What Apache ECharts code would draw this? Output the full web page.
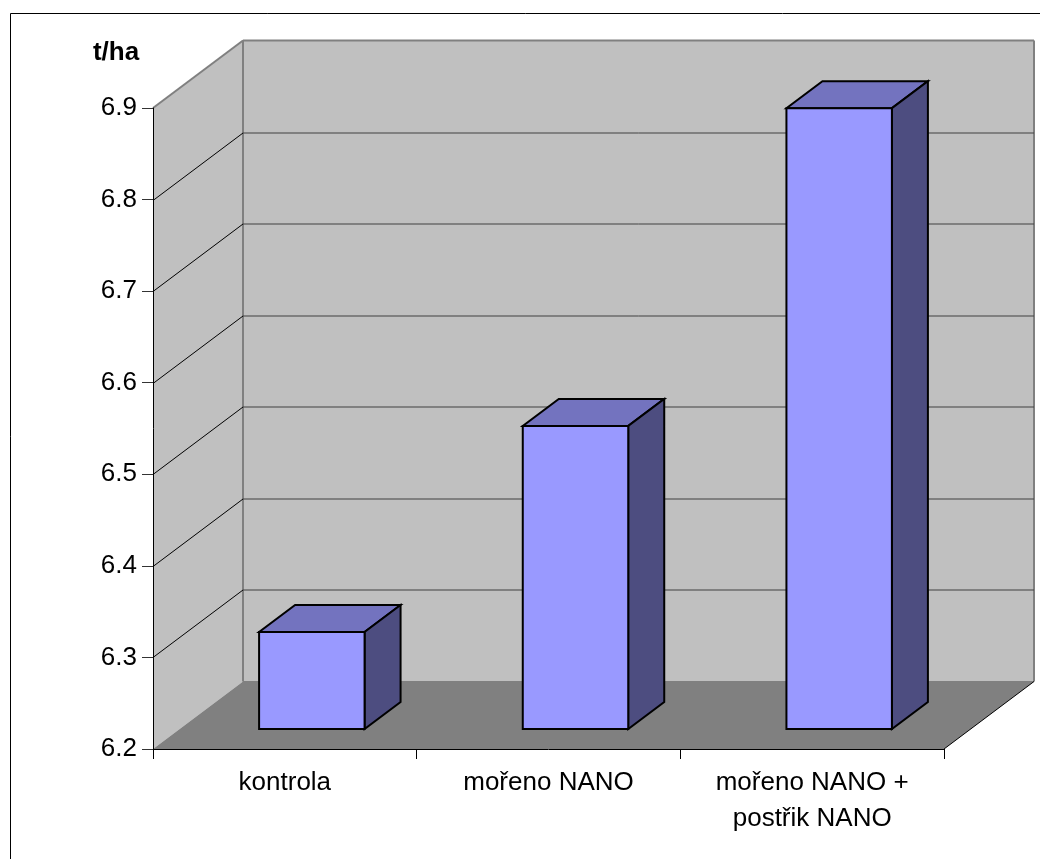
<!DOCTYPE html>
<html>
<head>
<meta charset="utf-8">
<title>t/ha</title>
<style>
  html, body { margin: 0; padding: 0; background: #fff; }
  #chart { width: 1040px; height: 859px; }
</style>
<script src="https://cdn.jsdelivr.net/npm/echarts@6/dist/echarts.min.js"></script>
</head>
<body>
<div id="chart"></div>
<script>
const categories = ['kontrola', 'mořeno NANO', 'mořeno NANO +\npostřik NANO'];
const values = [6.306, 6.531, 6.878];
const yTicks = [6.2, 6.3, 6.4, 6.5, 6.6, 6.7, 6.8, 6.9];
const yMin = 6.2;
const yMax = 6.9;
const axisName = 't/ha';

const FONT = '"Liberation Sans", Arial, sans-serif';
// projection of the fake 3d box, in px
const wallDepth = [90, -67.5];
const barInset = [27, -20];
const barDepth = [36, -27];
const barShare = 0.4;

function shift(p, d) {
  return [p[0] + d[0], p[1] + d[1]];
}

function line(a, b, stroke, lineWidth) {
  return {
    type: 'line',
    shape: { x1: a[0], y1: a[1], x2: b[0], y2: b[1] },
    style: { stroke: stroke, lineWidth: lineWidth }
  };
}

function poly(points, fill, stroke, lineWidth) {
  return {
    type: 'polygon',
    shape: { points: points },
    style: { fill: fill, stroke: stroke, lineWidth: lineWidth, lineJoin: 'miter' }
  };
}

// side wall, back wall and floor
function renderRoom(params, api) {
  const band = api.size([1, 0])[0];
  const bl = api.coord([0, yMin]);
  const tl = api.coord([0, yMax]);
  bl[0] -= band / 2;
  tl[0] -= band / 2;
  const br = [bl[0] + band * categories.length, bl[1]];
  const bBl = shift(bl, wallDepth);
  const bTl = shift(tl, wallDepth);
  const bBr = shift(br, wallDepth);
  const bTr = [bBr[0], bTl[1]];
  return {
    type: 'group',
    children: [
      poly([bl, tl, bTl, bBl], '#c0c0c0'),
      poly([bTl, bTr, bBr, bBl], '#c0c0c0'),
      poly([bl, br, bBr, bBl], '#808080'),
      line(tl, bTl, '#808080', 2),
      line(bTl, bTr, '#808080', 2),
      line(bTl, bBl, '#808080', 2),
      line(bTr, bBr, '#808080', 2),
      line(bBl, bBr, '#808080', 1),
      line(br, bBr, '#000', 1)
    ]
  };
}

// the gridline along both walls
function renderGrid(params, api) {
  const band = api.size([1, 0])[0];
  const p = api.coord([0, api.value(0)]);
  p[0] -= band / 2;
  p[1] = Math.round(p[1]) + 0.5;
  const back = shift(p, wallDepth);
  const end = [back[0] + band * categories.length, back[1]];
  return {
    type: 'group',
    children: [line(p, back, '#000', 1), line(back, end, '#404040', 1)]
  };
}

function renderBar(params, api) {
  const band = api.size([1, 0])[0];
  const half = band * barShare / 2;
  const top = shift(api.coord([api.value(0), api.value(1)]), barInset);
  const base = shift(api.coord([api.value(0), yMin]), barInset);
  const fl = [top[0] - half, top[1]];
  const fr = [top[0] + half, top[1]];
  const br = [base[0] + half, base[1]];
  const bl = [base[0] - half, base[1]];
  return {
    type: 'group',
    children: [
      poly([fl, fr, shift(fr, barDepth), shift(fl, barDepth)], '#7373bf', '#000', 2),
      poly([fr, br, shift(br, barDepth), shift(fr, barDepth)], '#4d4d80', '#000', 2),
      poly([fl, fr, br, bl], '#9999ff', '#000', 2)
    ]
  };
}

const chart = echarts.init(document.getElementById('chart'));
chart.setOption({
  animation: false,
  backgroundColor: '#fff',
  graphic: [{
    type: 'polyline',
    silent: true,
    shape: { points: [[10.5, 859], [10.5, 13.5], [1040, 13.5]] },
    style: { fill: null, stroke: '#000', lineWidth: 1 }
  }],
  grid: { left: 153, top: 108, width: 791, height: 641 },
  xAxis: {
    type: 'category',
    data: categories,
    z: 5,
    axisLine: { show: true, lineStyle: { color: '#000', width: 1 } },
    axisTick: { show: true, interval: 0, length: 10, lineStyle: { color: '#000', width: 1 } },
    axisLabel: {
      color: '#000',
      fontFamily: FONT,
      fontSize: 26,
      lineHeight: 36,
      margin: 16
    }
  },
  yAxis: {
    type: 'value',
    min: yMin,
    max: yMax,
    interval: 0.1,
    z: 5,
    name: axisName,
    nameLocation: 'end',
    nameGap: 42,
    nameTextStyle: {
      color: '#000',
      fontFamily: FONT,
      fontSize: 26,
      fontWeight: 'bold',
      align: 'center',
      padding: [0, 74, 0, 0]
    },
    splitLine: { show: false },
    axisLine: { show: true, lineStyle: { color: '#000', width: 1 } },
    axisTick: { show: true, length: 11, lineStyle: { color: '#333', width: 1 } },
    axisLabel: {
      color: '#000',
      fontFamily: FONT,
      fontSize: 26,
      margin: 16,
      padding: [11, 0, 0, 0],
      formatter: function (v) { return v.toFixed(1); }
    }
  },
  series: [
    {
      type: 'custom',
      renderItem: renderRoom,
      data: [[0]],
      silent: true,
      z: 1
    },
    {
      type: 'custom',
      renderItem: renderGrid,
      data: yTicks.slice(1, -1).map(function (v) { return [v]; }),
      encode: { y: 0 },
      silent: true,
      z: 2
    },
    {
      type: 'custom',
      renderItem: renderBar,
      data: values.map(function (v, i) { return [i, v]; }),
      encode: { x: 0, y: 1 },
      z: 3
    }
  ]
});
</script>
</body>
</html>
